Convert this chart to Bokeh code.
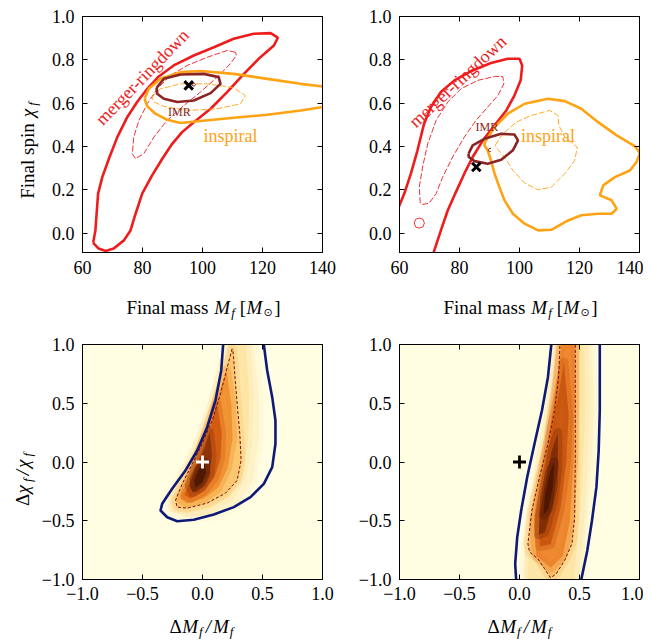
import math
from bokeh.plotting import figure
from bokeh.models import Label, FixedTicker, LinearAxis, CustomJSTickFormatter
from bokeh.layouts import column, row
from bokeh.embed import file_html
from bokeh.resources import INLINE

SERIF = "Liberation Serif"
RED = "#EE1C1C"
ORANGE = "#FFA214"
IMRC = "#8B2525"
NAVY = "#0E1A78"
DRED = "#7A0A0A"
CREAM = "#FFFDE2"

# ---------------- top-left panel ----------------
tl_mr90_m = [63.6, 64.3, 64.7, 65.2, 66.6, 68.8, 71.6, 74.9, 78.2, 81.6, 85.4, 90.4, 97.1, 103.8, 110.4, 117.1,
             122.7, 125.1, 123.8, 119.3, 113.8, 108.2, 102.7, 97.1, 93.2, 89.9, 86.6, 83.2, 79.9, 77.7, 76.0,
             73.8, 70.4, 67.7, 65.4, 63.8]
tl_mr90_chi = [-0.042, 0.012, 0.089, 0.182, 0.258, 0.343, 0.443, 0.535, 0.605, 0.666, 0.723, 0.774, 0.820, 0.858,
               0.897, 0.920, 0.923, 0.902, 0.866, 0.812, 0.735, 0.651, 0.574, 0.512, 0.466, 0.412, 0.343, 0.266,
               0.182, 0.089, 0.012, -0.034, -0.072, -0.083, -0.072, -0.049]
tl_mr50_m = [111.0, 108.2, 101.6, 94.9, 89.3, 84.9, 81.6, 78.8, 77.1, 76.6, 77.7, 80.4, 83.8, 88.2, 93.8, 99.3,
             104.9, 109.3, 111.3]
tl_mr50_chi = [0.835, 0.843, 0.812, 0.774, 0.728, 0.666, 0.597, 0.520, 0.443, 0.366, 0.343, 0.366, 0.443, 0.520,
               0.589, 0.651, 0.720, 0.782, 0.820]
tl_ins90_m = [80.7, 82.1, 86.0, 92.7, 99.3, 110.4, 121.6, 132.7, 141.6, 141.6, 132.7, 121.6, 110.4, 99.3, 92.7,
              88.2, 84.3, 81.6]
tl_ins90_chi = [0.620, 0.666, 0.712, 0.743, 0.748, 0.735, 0.712, 0.689, 0.674, 0.585, 0.566, 0.546, 0.532, 0.517,
                0.508, 0.523, 0.551, 0.585]
tl_ins50_m = [83.2, 86.0, 92.7, 101.6, 110.4, 114.3, 112.7, 104.9, 94.9, 87.1, 83.8]
tl_ins50_chi = [0.628, 0.666, 0.689, 0.689, 0.671, 0.635, 0.597, 0.574, 0.566, 0.585, 0.605]
tl_imr90_m = [84.7, 87.1, 92.7, 100.4, 105.4, 106.0, 102.7, 97.1, 91.6, 87.1, 84.9]
tl_imr90_chi = [0.671, 0.712, 0.732, 0.735, 0.720, 0.689, 0.646, 0.612, 0.605, 0.620, 0.643]
tl_imr50_m = [96.5, 97.2, 97.7, 97.3, 96.6]
tl_imr50_chi = [0.688, 0.694, 0.686, 0.678, 0.681]
tl_true = [95.4, 0.682]

# ---------------- top-right panel ----------------
tr_mr90_m = [58.8, 61.6, 63.8, 66.0, 68.2, 70.5, 73.8, 78.3, 83.9, 90.5, 96.1, 100.0, 100.9, 100.4, 98.3, 95.6,
             91.7, 87.8, 84.4, 81.6, 78.8, 76.1, 73.8, 71.6, 71.0]
tr_mr90_chi = [0.089, 0.182, 0.274, 0.382, 0.505, 0.582, 0.651, 0.705, 0.748, 0.785, 0.805, 0.805, 0.774, 0.705,
               0.635, 0.566, 0.497, 0.428, 0.351, 0.274, 0.189, 0.105, 0.012, -0.080, -0.111]
tr_mrblob_m = [64.9, 65.4, 66.6, 67.8, 68.3, 67.8, 66.6, 65.4]
tr_mrblob_chi = [0.046, 0.064, 0.069, 0.064, 0.046, 0.028, 0.023, 0.028]
tr_mr50_m = [66.9, 66.6, 67.7, 69.4, 72.2, 76.1, 80.5, 86.1, 91.7, 94.4, 94.8, 92.8, 89.4, 85.5, 81.6, 77.7,
             74.4, 72.2, 69.9, 67.7]
tr_mr50_chi = [0.138, 0.212, 0.305, 0.412, 0.520, 0.605, 0.666, 0.705, 0.723, 0.723, 0.689, 0.635, 0.582, 0.520,
               0.443, 0.351, 0.258, 0.182, 0.138, 0.132]
tr_ins90_m = [88.5, 91.7, 96.1, 101.7, 109.5, 115.1, 120.6, 126.2, 132.4, 138.5, 140.2, 139.0, 136.8, 131.8,
              127.9, 126.8, 130.7, 132.4, 130.7, 126.2, 120.6, 116.2, 110.6, 106.2, 101.7, 97.8, 95.0, 93.3,
              91.7, 90.5, 89.4, 88.3]
tr_ins90_chi = [0.420, 0.489, 0.551, 0.597, 0.620, 0.609, 0.574, 0.512, 0.451, 0.400, 0.369, 0.328, 0.289, 0.258,
                0.220, 0.174, 0.151, 0.112, 0.089, 0.089, 0.082, 0.058, 0.015, 0.012, 0.043, 0.089, 0.151, 0.212,
                0.274, 0.335, 0.382, 0.405]
tr_ins50_m = [91.9, 94.4, 98.9, 103.9, 110.1, 112.8, 113.1, 115.1, 119.3, 118.4, 115.1, 110.6, 106.2, 101.7,
              97.8, 95.0, 92.8]
tr_ins50_chi = [0.405, 0.458, 0.512, 0.543, 0.566, 0.543, 0.497, 0.443, 0.397, 0.335, 0.274, 0.212, 0.200,
                0.231, 0.289, 0.351, 0.385]
tr_imr90_m = [83.0, 84.4, 88.3, 93.9, 98.3, 99.5, 97.8, 93.9, 89.4, 85.0, 83.1]
tr_imr90_chi = [0.366, 0.405, 0.435, 0.458, 0.455, 0.428, 0.382, 0.338, 0.320, 0.332, 0.351]
tr_imr50_m = [90.5, 89.9, 89.6, 89.9, 90.4]
tr_imr50_chi = [0.392, 0.390, 0.382, 0.376, 0.376]
tr_true = [85.6, 0.305]

# ---------------- bottom-left panel ----------------
bl_c90_dm = [0.175, 0.172, 0.156, 0.108, 0.039, -0.044, -0.142, -0.253, -0.336, -0.350, -0.294, -0.211, -0.072,
             0.094, 0.261, 0.400, 0.511, 0.581, 0.608, 0.608, 0.581, 0.539, 0.511, 0.508]
bl_c90_dchi = [1.03, 1.0, 0.779, 0.523, 0.296, 0.098, -0.072, -0.228, -0.356, -0.413, -0.470, -0.504, -0.492,
               -0.447, -0.384, -0.299, -0.186, -0.044, 0.155, 0.353, 0.552, 0.779, 1.0, 1.03]
bl_c50_dm = [0.247, 0.206, 0.150, 0.081, -0.003, -0.086, -0.169, -0.225, -0.211, -0.128, 0.039, 0.192, 0.289,
             0.322, 0.311, 0.294, 0.275, 0.261, 0.253]
bl_c50_dchi = [0.963, 0.807, 0.580, 0.353, 0.155, -0.016, -0.186, -0.328, -0.384, -0.393, -0.350, -0.265, -0.157,
               0.013, 0.240, 0.438, 0.665, 0.864, 0.955]
bl_halo_dm = [0.21, 0.42, 0.47, 0.47, 0.42, 0.30, 0.10, -0.12, -0.27, -0.28, -0.17, -0.02, 0.08, 0.16]
bl_halo_dchi = [1.0, 1.0, 0.6, 0.2, -0.15, -0.36, -0.46, -0.47, -0.42, -0.31, -0.10, 0.2, 0.5, 0.8]
bl_halo2_dm = [0.22, 0.36, 0.39, 0.38, 0.33, 0.22, 0.05, -0.13, -0.25, -0.25, -0.16, -0.03, 0.07, 0.15]
bl_halo2_dchi = [1.0, 1.0, 0.6, 0.2, -0.12, -0.30, -0.40, -0.43, -0.39, -0.30, -0.12, 0.16, 0.45, 0.75]
bl_l2_dm = [0.20, 0.24, 0.25, 0.21, 0.13, 0.01, -0.13, -0.19, -0.12, -0.03, 0.06, 0.14]
bl_l2_dchi = [0.78, 0.5, 0.2, -0.05, -0.22, -0.31, -0.35, -0.31, -0.16, 0.08, 0.35, 0.6]
bl_l3_dm = [0.12, 0.16, 0.15, 0.10, 0.01, -0.10, -0.15, -0.09, -0.01, 0.07]
bl_l3_dchi = [0.50, 0.25, 0.03, -0.13, -0.25, -0.31, -0.28, -0.13, 0.08, 0.30]
bl_l4_dm = [0.06, 0.08, 0.06, 0.0, -0.08, -0.11, -0.06, 0.01]
bl_l4_dchi = [0.25, 0.06, -0.10, -0.21, -0.26, -0.20, -0.06, 0.10]
bl_l5_dm = [0.02, 0.03, 0.0, -0.06, -0.07, -0.03]
bl_l5_dchi = [0.0, -0.09, -0.17, -0.22, -0.15, -0.06]
bl_true = [0.0, 0.0]

# ---------------- bottom-right panel ----------------
br_c90a_dm = [0.270, 0.265, 0.237, 0.187, 0.125, 0.064, 0.014, -0.019, -0.036, -0.028, -0.026]
br_c90a_dchi = [1.03, 1.0, 0.722, 0.438, 0.155, -0.129, -0.413, -0.640, -0.867, -1.0, -1.03]
br_c90b_dm = [0.669, 0.669, 0.669, 0.660, 0.641, 0.604, 0.565, 0.515, 0.51]
br_c90b_dchi = [1.03, 1.0, 0.438, 0.098, -0.214, -0.498, -0.753, -1.0, -1.03]
br_c50_dm = [0.338, 0.337, 0.326, 0.292, 0.237, 0.167, 0.103, 0.070, 0.084, 0.153, 0.209, 0.259, 0.306, 0.376,
             0.437, 0.460, 0.465, 0.465, 0.465, 0.465]
br_c50_dchi = [1.03, 1.0, 0.722, 0.438, 0.155, -0.129, -0.413, -0.696, -0.767, -0.824, -0.909, -0.986, -0.952,
               -0.838, -0.696, -0.470, 0.013, 0.438, 1.0, 1.03]
br_halo_dm = [0.29, 0.60, 0.62, 0.60, 0.56, 0.52, 0.04, 0.05, 0.10, 0.17, 0.24]
br_halo_dchi = [1.0, 1.0, 0.5, 0.0, -0.5, -1.0, -1.0, -0.7, -0.3, 0.1, 0.5]
br_halo2_dm = [0.31, 0.54, 0.55, 0.53, 0.50, 0.45, 0.07, 0.08, 0.13, 0.19, 0.26]
br_halo2_dchi = [1.0, 1.0, 0.5, 0.0, -0.5, -1.0, -1.0, -0.7, -0.3, 0.1, 0.5]
br_l2_dm = [0.35, 0.46, 0.46, 0.45, 0.42, 0.36, 0.26, 0.14, 0.12, 0.17, 0.24, 0.30]
br_l2_dchi = [1.0, 1.0, 0.5, 0.0, -0.5, -0.8, -0.9, -0.8, -0.5, -0.2, 0.2, 0.6]
br_l3_dm = [0.37, 0.41, 0.39, 0.34, 0.26, 0.17, 0.16, 0.21, 0.27, 0.33]
br_l3_dchi = [0.85, 0.4, 0.0, -0.4, -0.70, -0.72, -0.45, -0.1, 0.3, 0.6]
br_l4_dm = [0.32, 0.32, 0.28, 0.21, 0.16, 0.17, 0.21, 0.27]
br_l4_dchi = [0.25, -0.05, -0.35, -0.60, -0.62, -0.45, -0.2, 0.1]
br_l5_dm = [0.29, 0.28, 0.24, 0.20, 0.21, 0.25]
br_l5_dchi = [0.0, -0.2, -0.40, -0.45, -0.3, -0.1]
br_true = [0.0, 0.0]

top_xticks = [60, 80, 100, 120, 140]
top_yticks = [0.0, 0.2, 0.4, 0.6, 0.8, 1.0]
bot_ticks = [-1.0, -0.5, 0.0, 0.5, 1.0]

W_REG = {'F': 556, 'i': 278, 'n': 500, 'a': 444, 'l': 278, ' ': 250, 'm': 778, 's': 389, 'p': 500,
         '[': 333, ']': 333, 'Δ': 612}
W_IT = {'M': 833, 'f': 278, 'χ': 550, '/': 278}


def closed(a):
    return list(a) + [a[0]]


def fmt(code):
    return CustomJSTickFormatter(code=code)


def make_fig(xr, yr, fh, left, right, top, bottom, bg):
    p = figure(frame_width=240, frame_height=fh, x_range=xr, y_range=yr, output_backend="svg",
               toolbar_location=None, min_border_left=left, min_border_right=right, min_border_top=top,
               min_border_bottom=bottom, background_fill_color=bg, border_fill_color="white",
               outline_line_color="black", outline_line_width=1)
    p.xgrid.visible = False
    p.ygrid.visible = False
    return p


def label_fig(w, h):
    p = figure(frame_width=w, frame_height=h, x_range=(0, w), y_range=(0, h), output_backend="svg",
               toolbar_location=None, min_border=0, outline_line_color=None, x_axis_type=None,
               y_axis_type=None, background_fill_color="white", border_fill_color="white")
    return p


def style_axes(p, xt, yt, xcode, ycode, standoff):
    p.xaxis.ticker = FixedTicker(ticks=xt)
    p.yaxis.ticker = FixedTicker(ticks=yt)
    p.xaxis.formatter = fmt(xcode)
    p.yaxis.formatter = fmt(ycode)
    for ax in p.xaxis + p.yaxis:
        ax.major_tick_in = 5
        ax.major_tick_out = 0
        ax.minor_tick_line_color = None
        ax.major_label_text_font = SERIF
        ax.major_label_text_font_size = "18px"
        ax.major_label_text_color = "black"
        ax.axis_line_color = "black"
        ax.major_tick_line_color = "black"
        ax.major_label_standoff = 8
    p.xaxis.major_label_standoff = standoff
    for side, t in (("above", xt), ("right", yt)):
        ax = LinearAxis(ticker=FixedTicker(ticks=t), formatter=fmt("return ''"), major_tick_in=5,
                        major_tick_out=0, minor_tick_line_color=None, major_label_text_font_size="0px",
                        major_label_standoff=0, axis_line_color="black", major_tick_line_color="black")
        p.add_layout(ax, side)


def rich(p, x, y, pieces, rotated=False):
    ws = []
    for txt, st, sz, sh, gap, font in pieces:
        if font == "DejaVu Sans":
            w = 838 * len(txt) * sz / 1000
        else:
            tab = W_IT if st == "italic" else W_REG
            w = sum(tab.get(c, 500) for c in txt) * sz / 1000
        ws.append(w + gap)
    pos = -sum(ws) / 2
    for (txt, st, sz, sh, gap, font), w in zip(pieces, ws):
        kw = dict(x=x, y=y, text=txt, text_font=font or SERIF, text_font_style=st,
                  text_font_size=f"{sz}px", text_color="black", text_align="left",
                  text_baseline="alphabetic")
        if rotated:
            lab = Label(x_offset=sh, y_offset=pos, angle=math.pi / 2, **kw)
        else:
            lab = Label(x_offset=pos, y_offset=-sh, **kw)
        p.add_layout(lab)
        pos += w


def text(p, x, y, t, color, size, ang=0):
    p.add_layout(Label(x=x, y=y, text=t, text_color=color, text_font=SERIF, text_font_size=f"{size}px",
                       angle=math.radians(ang), text_align="center", text_baseline="middle"))


X_TOP = [("Final mass", "normal", 19, 0, 6, None), ("M", "italic", 19, 0, 1, None),
         ("f", "italic", 13, 5, 5, None), ("[", "normal", 19, 0, 0.5, None), ("M", "italic", 19, 0, 1, None),
         ("⊙", "normal", 11, 5, 1.5, "DejaVu Sans"), ("]", "normal", 19, 0, 0, None)]
Y_TOP = [("Final spin", "normal", 19, 0, 6, None), ("χ", "italic", 19, 0, 1, None),
         ("f", "italic", 13, 5, 0, None)]
X_BOT = [("Δ", "normal", 19, 0, 1, None), ("M", "italic", 19, 0, 1, None), ("f", "italic", 13, 5, 3, None),
         ("/", "italic", 19, 0, 2, None), ("M", "italic", 19, 0, 1, None), ("f", "italic", 13, 5, 0, None)]
Y_BOT = [("Δ", "normal", 19, 0, 1, None), ("χ", "italic", 19, 0, 1, None), ("f", "italic", 13, 5, 3, None),
         ("/", "italic", 19, 0, 2, None), ("χ", "italic", 19, 0, 1, None), ("f", "italic", 13, 5, 0, None)]

XC_TOP = "return tick.toFixed(0)"
YC = "return tick.toFixed(1).replace('-', '\u2212')"


def top_panel(left, right, d):
    p = make_fig((60, 140), (-0.09, 1.0), 236, left, right, 16, 32, "white")
    style_axes(p, top_xticks, top_yticks, XC_TOP, YC, 8)
    for key, col, w, dash in (("mr90", RED, 2.6, "solid"), ("mr50", RED, 0.9, "6 2"),
                              ("ins90", ORANGE, 2.6, "solid"), ("ins50", ORANGE, 0.9, "6 2"),
                              ("imr90", IMRC, 2.6, "solid"), ("imr50", IMRC, 1.0, "solid")):
        xs, ys = d[key]
        if key not in d.get("open", []):
            xs, ys = closed(xs), closed(ys)
        p.line(xs, ys, line_color=col, line_width=w, line_dash=dash)
    for xs, ys in d.get("extra", []):
        p.line(closed(xs), closed(ys), line_color=RED, line_width=0.9)
    p.scatter([d["true"][0]], [d["true"][1]], marker="x", size=12, line_color="black", line_width=3)
    for t, x, y, col, sz, ang in d["texts"]:
        text(p, x, y, t, col, sz, ang)
    return p


def bottom_panel(left, right, layers, c90s, c50, c50_closed, true_pt, true_col):
    p = make_fig((-1, 1), (-1, 1), 235, left, right, 12, 30, CREAM)
    style_axes(p, bot_ticks, bot_ticks, YC, YC, 7)
    for xs, ys, col, a in layers:
        # soft edge: wide translucent stroke of the same colour blends neighbouring density levels
        p.patch(xs, ys, fill_color=col, fill_alpha=a, line_color=col, line_alpha=0.35, line_width=9,
                line_join="round")
    xs, ys = c50
    if c50_closed:
        xs, ys = closed(xs), closed(ys)
    p.line(xs, ys, line_color=DRED, line_width=1.0, line_dash="3 2")
    for xs, ys in c90s:
        p.line(xs, ys, line_color=NAVY, line_width=2.6)
    p.scatter([true_pt[0]], [true_pt[1]], marker="cross", size=13, line_color=true_col, line_width=2.8)
    return p


tl = top_panel(38, 14, {
    "mr90": (tl_mr90_m, tl_mr90_chi), "mr50": (tl_mr50_m, tl_mr50_chi),
    "ins90": (tl_ins90_m, tl_ins90_chi), "ins50": (tl_ins50_m, tl_ins50_chi),
    "imr90": (tl_imr90_m, tl_imr90_chi), "imr50": (tl_imr50_m, tl_imr50_chi),
    "true": tl_true,
    "texts": [("merger-ringdown", 79.9, 0.72, RED, 18, 46), ("IMR", 92.3, 0.56, IMRC, 12, 0),
              ("inspiral", 109.3, 0.45, ORANGE, 18, 0)],
})

tr = top_panel(63, 4, {
    "mr90": (tr_mr90_m, tr_mr90_chi), "mr50": (tr_mr50_m, tr_mr50_chi),
    "ins90": (tr_ins90_m, tr_ins90_chi), "ins50": (tr_ins50_m, tr_ins50_chi),
    "imr90": (tr_imr90_m, tr_imr90_chi), "imr50": (tr_imr50_m, tr_imr50_chi),
    "open": ["mr90", "imr50"],
    "extra": [(tr_mrblob_m, tr_mrblob_chi)],
    "true": tr_true,
    "texts": [("merger-ringdown", 79.4, 0.70, RED, 18, 43), ("IMR", 89.1, 0.49, IMRC, 12, 0),
              ("inspiral", 109.5, 0.45, ORANGE, 18, 0)],
})

bl = bottom_panel(44, 14, [
    (bl_halo_dm, bl_halo_dchi, "#FEF2C6", 0.9),
    (bl_halo2_dm, bl_halo2_dchi, "#FCE2A0", 0.8),
    (bl_c50_dm, bl_c50_dchi, "#F9C46A", 0.9),
    (bl_l2_dm, bl_l2_dchi, "#F08C2C", 0.85),
    (bl_l3_dm, bl_l3_dchi, "#CF560E", 0.85),
    (bl_l4_dm, bl_l4_dchi, "#8A3208", 0.9),
    (bl_l5_dm, bl_l5_dchi, "#4A1604", 0.9),
], [(bl_c90_dm, bl_c90_dchi)], (bl_c50_dm, bl_c50_dchi), True, bl_true, "white")

br = bottom_panel(63, 4, [
    (br_halo_dm, br_halo_dchi, "#FEF2C6", 0.9),
    (br_halo2_dm, br_halo2_dchi, "#FCE2A0", 0.8),
    (br_c50_dm, br_c50_dchi, "#F7BB60", 0.9),
    (br_l2_dm, br_l2_dchi, "#EC7F28", 0.85),
    (br_l3_dm, br_l3_dchi, "#C5520D", 0.85),
    (br_l4_dm, br_l4_dchi, "#7E2A06", 0.9),
    (br_l5_dm, br_l5_dchi, "#4A1604", 0.9),
], [(br_c90a_dm, br_c90a_dchi), (br_c90b_dm, br_c90b_dchi)], (br_c50_dm, br_c50_dchi), False, br_true,
    "black")

# axis-label strips (rich text: italic symbols and subscripts); page has no margin
yl_top = label_fig(44, 284)
rich(yl_top, 27, 150, Y_TOP, rotated=True)
xl_top = label_fig(643, 48)
rich(xl_top, 203, 25, X_TOP)
rich(xl_top, 520, 25, X_TOP)
yl_bot = label_fig(38, 277)
rich(yl_bot, 22, 142, Y_BOT, rotated=True)
xl_bot = label_fig(643, 32)
rich(xl_bot, 201, 15, X_BOT)
rich(xl_bot, 519, 15, X_BOT)

layout = column(row(yl_top, tl, tr), xl_top, row(yl_bot, bl, br), xl_bot)
open("out.html", "w").write(file_html(layout, INLINE))
